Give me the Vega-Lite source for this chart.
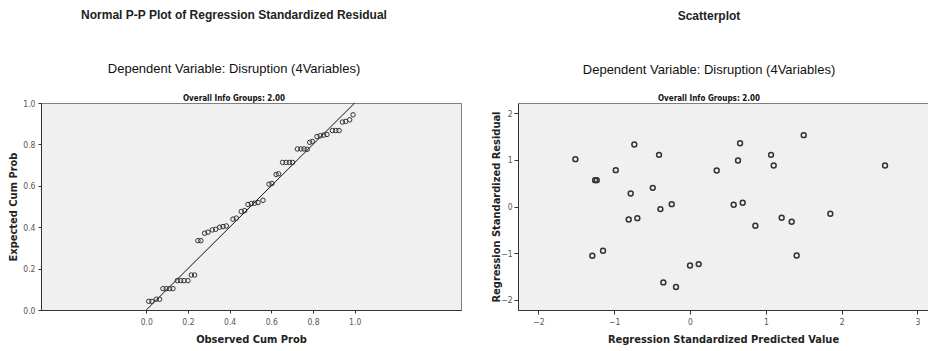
{
  "$schema": "https://vega.github.io/schema/vega-lite/v6.json",
  "background": "white",
  "padding": {"left": 6, "top": 8, "right": 0, "bottom": 0},
  "spacing": 27,
  "config": {
    "font": "Liberation Sans",
    "view": {"fill": "#f0f0f0", "stroke": "#808080", "strokeWidth": 1},
    "axis": {
      "grid": false,
      "domainColor": "#333333",
      "tickColor": "#333333",
      "tickSize": 3,
      "labelFont": "DejaVu Sans Condensed, sans-serif",
      "labelFontSize": 8.5,
      "labelColor": "#555555",
      "titleFont": "DejaVu Sans Condensed, sans-serif",
      "titleFontSize": 11,
      "titleFontWeight": "bold",
      "titleColor": "#222222",
      "labelPadding": 3
    },
    "concat": {"spacing": 27}
  },
  "datasets": {
    "ref": [{"x": 0, "y": 0}, {"x": 1, "y": 1}],
    "pp": [
      {"x": 0.012, "y": 0.042}, {"x": 0.027, "y": 0.042}, {"x": 0.048, "y": 0.052}, {"x": 0.064, "y": 0.052},
      {"x": 0.080, "y": 0.103}, {"x": 0.096, "y": 0.103}, {"x": 0.112, "y": 0.103}, {"x": 0.128, "y": 0.103},
      {"x": 0.149, "y": 0.142}, {"x": 0.165, "y": 0.142}, {"x": 0.181, "y": 0.142}, {"x": 0.200, "y": 0.142},
      {"x": 0.216, "y": 0.169}, {"x": 0.232, "y": 0.169}, {"x": 0.248, "y": 0.335}, {"x": 0.262, "y": 0.335},
      {"x": 0.280, "y": 0.371}, {"x": 0.296, "y": 0.376}, {"x": 0.317, "y": 0.387}, {"x": 0.333, "y": 0.390},
      {"x": 0.352, "y": 0.400}, {"x": 0.368, "y": 0.403}, {"x": 0.384, "y": 0.406}, {"x": 0.416, "y": 0.439},
      {"x": 0.432, "y": 0.444}, {"x": 0.456, "y": 0.476}, {"x": 0.472, "y": 0.480}, {"x": 0.488, "y": 0.510},
      {"x": 0.504, "y": 0.514}, {"x": 0.520, "y": 0.516}, {"x": 0.536, "y": 0.519}, {"x": 0.560, "y": 0.530},
      {"x": 0.589, "y": 0.608}, {"x": 0.603, "y": 0.611}, {"x": 0.623, "y": 0.655}, {"x": 0.635, "y": 0.658},
      {"x": 0.654, "y": 0.713}, {"x": 0.671, "y": 0.713}, {"x": 0.687, "y": 0.713}, {"x": 0.702, "y": 0.713},
      {"x": 0.725, "y": 0.778}, {"x": 0.742, "y": 0.778}, {"x": 0.757, "y": 0.778}, {"x": 0.772, "y": 0.776},
      {"x": 0.784, "y": 0.810}, {"x": 0.797, "y": 0.814}, {"x": 0.819, "y": 0.838}, {"x": 0.835, "y": 0.842},
      {"x": 0.851, "y": 0.845}, {"x": 0.867, "y": 0.848}, {"x": 0.893, "y": 0.867}, {"x": 0.909, "y": 0.867},
      {"x": 0.925, "y": 0.867}, {"x": 0.941, "y": 0.908}, {"x": 0.957, "y": 0.911}, {"x": 0.976, "y": 0.919},
      {"x": 0.992, "y": 0.943}
    ],
    "sc": [
      {"x": -1.513, "y": 1.016}, {"x": -0.735, "y": 1.33}, {"x": -0.409, "y": 1.108}, {"x": -0.98, "y": 0.78},
      {"x": -1.253, "y": 0.565}, {"x": -1.231, "y": 0.565}, {"x": -0.492, "y": 0.40}, {"x": -0.783, "y": 0.279},
      {"x": -0.242, "y": 0.05}, {"x": -0.391, "y": -0.056}, {"x": -0.809, "y": -0.278}, {"x": -0.695, "y": -0.25},
      {"x": -1.289, "y": -1.056}, {"x": -1.148, "y": -0.949}, {"x": 0.0, "y": -1.264}, {"x": 0.114, "y": -1.235},
      {"x": -0.352, "y": -1.628}, {"x": -0.185, "y": -1.728}, {"x": 1.5, "y": 1.53}, {"x": 0.66, "y": 1.358},
      {"x": 1.069, "y": 1.108}, {"x": 0.633, "y": 0.986}, {"x": 1.104, "y": 0.879}, {"x": 2.573, "y": 0.879},
      {"x": 0.352, "y": 0.771}, {"x": 0.576, "y": 0.036}, {"x": 0.695, "y": 0.079}, {"x": 1.209, "y": -0.242},
      {"x": 1.341, "y": -0.328}, {"x": 1.851, "y": -0.156}, {"x": 0.862, "y": -0.414}, {"x": 1.407, "y": -1.05}
    ]
  },
  "hconcat": [
    {
      "title": {
        "text": "Normal P-P Plot of Regression Standardized Residual",
        "subtitle": "Dependent Variable: Disruption (4Variables)",
        "anchor": "middle", "frame": "bounds",
        "fontSize": 12, "fontWeight": "bold", "color": "#222222",
        "subtitleFontSize": 13, "subtitleColor": "#111111", "subtitleFont": "Liberation Sans",
        "subtitlePadding": 41, "offset": 18
      },
      "vconcat": [
        {
          "title": {
            "text": "Overall Info Groups: 2.00",
            "font": "DejaVu Sans Condensed, sans-serif",
            "fontSize": 8, "fontWeight": "bold", "color": "#111111",
            "anchor": "middle", "frame": "bounds", "offset": -4
          },
          "width": 420,
          "height": 207,
          "encoding": {
            "x": {
              "field": "x", "type": "quantitative",
              "scale": {"domain": [-0.505, 1.51], "nice": false, "zero": false},
              "axis": {"title": "Observed Cum Prob", "values": [0, 0.2, 0.4, 0.6, 0.8, 1.0], "format": ".1f", "labelPadding": 4, "titlePadding": 8}
            },
            "y": {
              "field": "y", "type": "quantitative",
              "scale": {"domain": [0, 1], "nice": false, "zero": false},
              "axis": {"title": "Expected Cum Prob", "values": [0, 0.2, 0.4, 0.6, 0.8, 1.0], "format": ".1f", "minExtent": 19, "maxExtent": 19, "titlePadding": 4}
            }
          },
          "layer": [
            {
              "data": {"name": "ref"},
              "mark": {"type": "line", "color": "#111111", "strokeWidth": 1},
              "encoding": {}
            },
            {
              "data": {"name": "pp"},
              "mark": {"type": "point", "shape": "circle", "filled": false, "stroke": "#333333", "strokeWidth": 1, "size": 20, "opacity": 1}
            }
          ]
        }
      ]
    },
    {
      "title": {
        "text": "Scatterplot",
        "subtitle": "Dependent Variable: Disruption (4Variables)",
        "anchor": "middle", "frame": "bounds",
        "fontSize": 12, "fontWeight": "bold", "color": "#222222",
        "subtitleFontSize": 13, "subtitleColor": "#111111", "subtitleFont": "Liberation Sans",
        "subtitlePadding": 41, "offset": 17
      },
      "vconcat": [
        {
          "title": {
            "text": "Overall Info Groups: 2.00",
            "font": "DejaVu Sans Condensed, sans-serif",
            "fontSize": 8, "fontWeight": "bold", "color": "#111111",
            "anchor": "middle", "frame": "bounds", "offset": 0
          },
          "width": 410,
          "height": 207,
          "data": {"name": "sc"},
          "mark": {"type": "point", "shape": "circle", "filled": false, "stroke": "#333333", "strokeWidth": 1.5, "size": 24, "opacity": 1},
          "encoding": {
            "x": {
              "field": "x", "type": "quantitative",
              "scale": {"domain": [-2.27, 3.14], "nice": false, "zero": false},
              "axis": {"title": "Regression Standardized Predicted Value", "values": [-2, -1, 0, 1, 2, 3], "format": "d", "tickSize": 4, "labelPadding": 3, "titlePadding": 8}
            },
            "y": {
              "field": "y", "type": "quantitative",
              "scale": {"domain": [-2.22, 2.22], "nice": false, "zero": false},
              "axis": {"title": "Regression Standardized Residual", "values": [-2, -1, 0, 1, 2], "format": "d", "tickSize": 4, "labelPadding": 2, "minExtent": 13, "maxExtent": 13, "titlePadding": 4}
            }
          }
        }
      ]
    }
  ]
}
